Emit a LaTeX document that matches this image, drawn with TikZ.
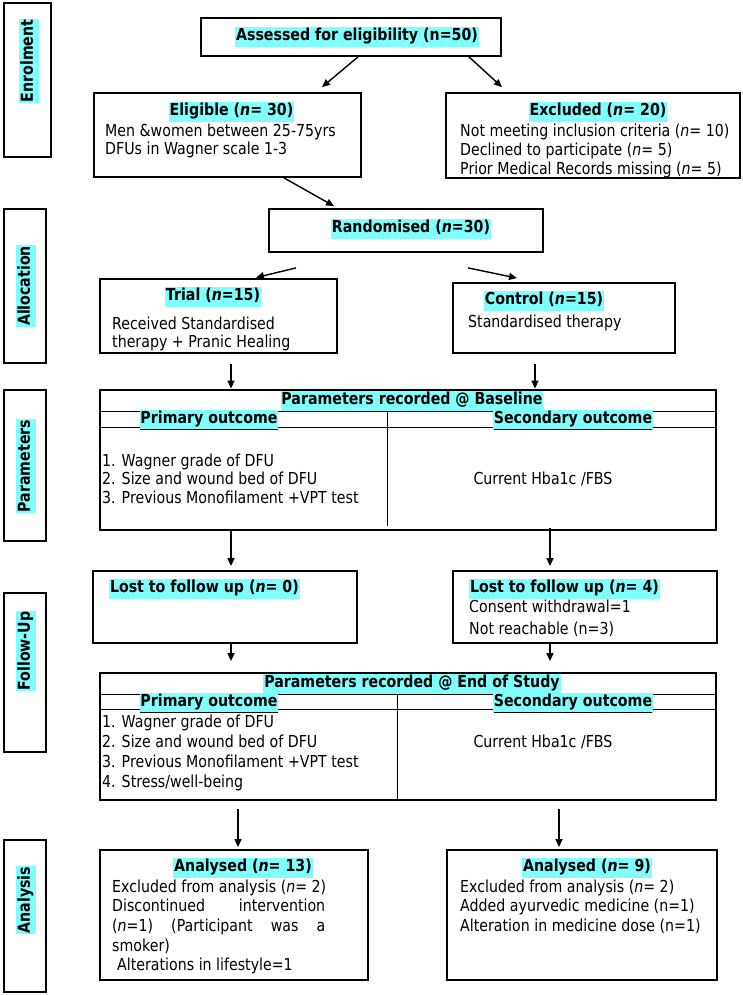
\documentclass[tikz,border=0pt]{standalone}
\usepackage{fontspec}
\setmainfont{DejaVu Sans}[FakeStretch=0.86]
\usetikzlibrary{arrows.meta}
\definecolor{hlc}{RGB}{128,255,255}
\newcommand{\hlt}[1]{{\setlength{\fboxsep}{0.8pt}\colorbox{hlc}{\strut #1}}}
\begin{document}
\begin{tikzpicture}[x=1pt,y=-1pt,
  box/.style={draw, line width=1.8pt, inner sep=0pt},
  inln/.style={line width=1.1pt},
  txt/.style={anchor=west, inner sep=0pt, yshift=-1pt, font=\fontsize{16.5}{19}\selectfont},
  ctx/.style={anchor=center, inner sep=0pt, yshift=-1pt, font=\fontsize{16.5}{19}\selectfont},
  ttl/.style={anchor=center, inner sep=0pt, font=\fontsize{16.5}{19}\selectfont\bfseries},
  ttlw/.style={anchor=west, inner sep=0pt, font=\fontsize{16.5}{19}\selectfont\bfseries},
  arr/.style={line width=1.4pt, -{Triangle[length=8pt,width=7pt]}}]
\useasboundingbox (0,0) rectangle (742,995);
\fill[white] (0,0) rectangle (742,995);

% side labels
\node[box, minimum width=47pt, minimum height=154pt] (s1) at (27.5,80) {};
\node[ttl, rotate=90] (s1t) at (29,61) {\hlt{Enrolment}};
\node[box, minimum width=42pt, minimum height=154pt] (s2) at (25,286) {};
\node[ttl, rotate=90] (s2t) at (26,286) {\hlt{Allocation}};
\node[box, minimum width=42pt, minimum height=151pt] (s3) at (25,465.5) {};
\node[ttl, rotate=90] (s3t) at (26,466) {\hlt{Parameters}};
\node[box, minimum width=42pt, minimum height=159pt] (s4) at (25,672.5) {};
\node[ttl, rotate=90] (s4t) at (26,651) {\hlt{Follow-Up}};
\node[box, minimum width=42pt, minimum height=152pt] (s5) at (25,916) {};
\node[ttl, rotate=90] (s5t) at (26,900) {\hlt{Analysis}};

% enrolment
\node[box, minimum width=300pt, minimum height=38pt] (assess) at (351,37) {};
\node[ttl] (assesst) at (357,37) {\hlt{Assessed for eligibility (n=50)}};

\node[box, minimum width=267pt, minimum height=84pt] (elig) at (227.5,135) {};
\node[ttl] (eligt) at (231.5,112) {\hlt{Eligible (\textit{n}= 30)}};
\node[txt] (elig1) at (105,132) {\strut Men \&women between 25-75yrs};
\node[txt] (elig2) at (105,150) {\strut DFUs in Wagner scale 1-3};

\node[box, minimum width=294pt, minimum height=85pt] (excl) at (593,135.5) {};
\node[ttl] (exclt) at (598,112) {\hlt{Excluded (\textit{n}= 20)}};
\node[txt] (excl1) at (460,132) {\strut Not meeting inclusion criteria (\textit{n}= 10)};
\node[txt] (excl2) at (460,151) {\strut Declined to participate (\textit{n}= 5)};
\node[txt] (excl3) at (460,170) {\strut Prior Medical Records missing (\textit{n}= 5)};

% allocation
\node[box, minimum width=274pt, minimum height=43pt] (rand) at (406,230.5) {};
\node[ttl] (randt) at (411,229) {\hlt{Randomised (\textit{n}=30)}};

\node[box, minimum width=237pt, minimum height=74pt] (trial) at (218.5,316) {};
\node[ttl] (trialt) at (213,297) {\hlt{Trial (\textit{n}=15)}};
\node[txt] (trial1) at (112,325) {\strut Received Standardised};
\node[txt] (trial2) at (112,343) {\strut therapy + Pranic Healing};

\node[box, minimum width=222pt, minimum height=70pt] (ctrl) at (564,318) {};
\node[ttl] (ctrlt) at (544,301) {\hlt{Control (\textit{n}=15)}};
\node[txt] (ctrl1) at (468,323) {\strut Standardised therapy};

% baseline table
\node[box, minimum width=616pt, minimum height=140pt] (base) at (408,460) {};
\draw[inln] ([yshift=-22pt]base.north west) -- ([yshift=-22pt]base.north east);
\draw[inln] ([yshift=-38pt]base.north west) -- ([yshift=-38pt]base.north east);
\draw[inln] ([xshift=288pt,yshift=-22pt]base.north west) -- ([xshift=288pt,yshift=5pt]base.south west);
\node[ttl] (baset) at (412,401) {\hlt{Parameters recorded @ Baseline}};
\node[ttl] (basep) at (209,420) {\hlt{\underline{Primary outcome}}};
\node[ttl] (bases) at (573,420) {\hlt{\underline{Secondary outcome}}};
\node[txt] (base1) at (102,462) {\strut 1. Wagner grade of DFU};
\node[txt] (base2) at (102,480) {\strut 2. Size and wound bed of DFU};
\node[txt] (base3) at (102,499) {\strut 3. Previous Monofilament +VPT test};
\node[ctx] (base4) at (543,480) {\strut Current Hba1c /FBS};

% follow-up
\node[box, minimum width=264pt, minimum height=72pt] (lost0) at (225,607) {};
\node[ttlw] (lost0t) at (109,589) {\hlt{Lost to follow up (\textit{n}= 0)}};
\node[box, minimum width=264pt, minimum height=72pt] (lost4) at (585,607) {};
\node[ttlw] (lost4t) at (469,589) {\hlt{Lost to follow up (\textit{n}= 4)}};
\node[txt] (lost41) at (469,608) {\strut Consent withdrawal=1};
\node[txt] (lost42) at (469,630) {\strut Not reachable (n=3)};

% end of study table
\node[box, minimum width=616pt, minimum height=127pt] (endt) at (408,736.5) {};
\draw[inln] ([yshift=-22pt]endt.north west) -- ([yshift=-22pt]endt.north east);
\draw[inln] ([yshift=-37pt]endt.north west) -- ([yshift=-37pt]endt.north east);
\draw[inln] ([xshift=298pt,yshift=-22pt]endt.north west) -- ([xshift=298pt]endt.south west);
\node[ttl] (endtt) at (412,684) {\hlt{Parameters recorded @ End of Study}};
\node[ttl] (endp) at (209,703) {\hlt{\underline{Primary outcome}}};
\node[ttl] (ends) at (573,703) {\hlt{\underline{Secondary outcome}}};
\node[txt] (end1) at (102,723) {\strut 1. Wagner grade of DFU};
\node[txt] (end2) at (102,743) {\strut 2. Size and wound bed of DFU};
\node[txt] (end3) at (102,763) {\strut 3. Previous Monofilament +VPT test};
\node[txt] (end4) at (102,783) {\strut 4. Stress/well-being};
\node[ctx] (end5) at (543,743) {\strut Current Hba1c /FBS};

% analysis
\node[box, minimum width=268pt, minimum height=130pt] (an13) at (234,915) {};
\node[ttl] (an13t) at (243,868) {\hlt{Analysed (\textit{n}= 13)}};
\node[txt] (an131) at (112,888) {\strut Excluded from analysis (\textit{n}= 2)};
\node[txt] (an132) at (112,907) {\strut\makebox[213pt][l]{Discontinued\hfill intervention}};
\node[txt] (an133) at (112,927) {\strut\makebox[213pt][l]{(\textit{n}=1)\hfill(Participant\hfill was\hfill a}};
\node[txt] (an134) at (112,947) {\strut smoker)};
\node[txt] (an135) at (117,966) {\strut Alterations in lifestyle=1};

\node[box, minimum width=270pt, minimum height=130pt] (an9) at (582,915) {};
\node[ttl] (an9t) at (587,868) {\hlt{Analysed (\textit{n}= 9)}};
\node[txt] (an91) at (460,888) {\strut Excluded from analysis (\textit{n}= 2)};
\node[txt] (an92) at (460,907) {\strut Added ayurvedic medicine (n=1)};
\node[txt] (an93) at (460,927) {\strut Alteration in medicine dose (n=1)};

% arrows
\draw[arr] ([xshift=7pt]assess.south) -- ([xshift=94.5pt,yshift=5pt]elig.north);
\draw[arr] ([xshift=118pt]assess.south) -- ([xshift=-91pt,yshift=5pt]excl.north);
\draw[arr] ([xshift=56.5pt]elig.south) -- ([xshift=-72pt,yshift=2pt]rand.north);
\draw[arr] ([xshift=-110pt,yshift=-15pt]rand.south) -- ([xshift=37.5pt,yshift=0.5pt]trial.north);
\draw[arr] ([xshift=62pt,yshift=-15pt]rand.south) -- ([xshift=-47pt,yshift=4pt]ctrl.north);
\draw[arr] ([xshift=12.5pt,yshift=-10pt]trial.south) -- ([xshift=-177pt,yshift=0.5pt]base.north);
\draw[arr] ([xshift=-29pt,yshift=-10pt]ctrl.south) -- ([xshift=127pt,yshift=0.5pt]base.north);
\draw[arr] ([xshift=-177pt]base.south) -- ([xshift=6pt,yshift=4pt]lost0.north);
\draw[arr] ([xshift=142pt,yshift=3pt]base.south) -- ([xshift=-35pt,yshift=4pt]lost4.north);
\draw[arr] ([xshift=6pt]lost0.south) -- ([xshift=-177pt,yshift=11pt]endt.north);
\draw[arr] ([xshift=-35pt]lost4.south) -- ([xshift=142pt,yshift=11pt]endt.north);
\draw[arr] ([xshift=-170pt,yshift=-8pt]endt.south) -- ([xshift=4pt,yshift=2pt]an13.north);
\draw[arr] ([xshift=151pt,yshift=-8pt]endt.south) -- ([xshift=-23pt,yshift=2pt]an9.north);
\end{tikzpicture}
\end{document}
